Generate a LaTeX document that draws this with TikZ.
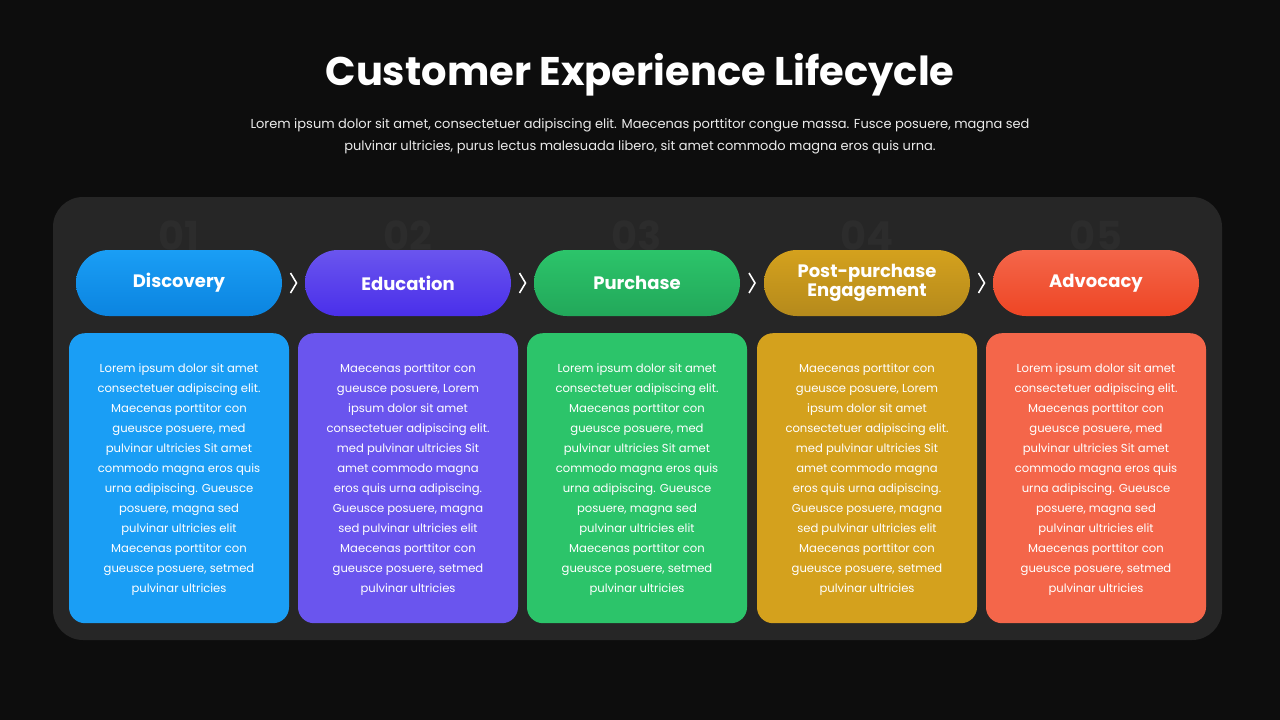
\documentclass[tikz,border=0pt]{standalone}
\usepackage{fontspec}
\setmainfont{Poppins}
\usetikzlibrary{calc}
\begin{document}
\begin{tikzpicture}[x=1pt,y=-1pt,
 pill/.style={rounded corners=33pt,minimum width=206pt,minimum height=66pt,text=white,font=\fontsize{18}{21}\selectfont\bfseries,align=center,inner sep=0pt},
 card/.style={rounded corners=16pt,minimum width=220pt,minimum height=290pt,anchor=north,inner sep=0pt},
 body/.style={text=white,font=\fontsize{11.6}{20}\selectfont,align=center,anchor=north},
 num/.style={font=\fontsize{40}{40}\selectfont\bfseries},
 chev/.style={draw=white,line width=1.6pt}]
\definecolor{bg}{HTML}{0D0D0D}
\definecolor{panel}{HTML}{262626}
\definecolor{cA}{HTML}{1A9EF5}\definecolor{cAd}{HTML}{0B84E0}
\definecolor{cB}{HTML}{6A55EE}\definecolor{cBd}{HTML}{4A2FEA}
\definecolor{cC}{HTML}{2CC46A}\definecolor{cCd}{HTML}{22A85A}
\definecolor{cD}{HTML}{D4A11D}\definecolor{cDd}{HTML}{B58A1C}
\definecolor{cE}{HTML}{F4664A}\definecolor{cEd}{HTML}{EE4524}
\definecolor{numc}{HTML}{2C2C2C}
\fill[bg] (0,0) rectangle (1280,720);
\useasboundingbox (0,0) rectangle (1280,720);
\node[text=white,font=\fontsize{40}{44}\selectfont\bfseries] (title) at (640,75) {Customer Experience Lifecycle};
\node[text=white!92!black,font=\fontsize{13}{22}\selectfont,align=center] (sub) at (640,136) {Lorem ipsum dolor sit amet, consectetuer adipiscing elit. Maecenas porttitor congue massa. Fusce posuere, magna sed\\pulvinar ultricies, purus lectus malesuada libero, sit amet commodo magna eros quis urna.};
\fill[panel,rounded corners=30pt] (53,197) rectangle (1222,640);
\def\txtA{Lorem ipsum dolor sit amet\\consectetuer adipiscing elit.\\Maecenas porttitor con\\gueusce posuere, med\\pulvinar ultricies Sit amet\\commodo magna eros quis\\urna adipiscing. Gueusce\\posuere, magna sed\\pulvinar ultricies elit\\Maecenas porttitor con\\gueusce posuere, setmed\\pulvinar ultricies}
\def\txtB{Maecenas porttitor con\\gueusce posuere, Lorem\\ipsum dolor sit amet\\consectetuer adipiscing elit.\\med pulvinar ultricies Sit\\amet commodo magna\\eros quis urna adipiscing.\\Gueusce posuere, magna\\sed pulvinar ultricies elit\\Maecenas porttitor con\\gueusce posuere, setmed\\pulvinar ultricies}
\foreach \i/\x/\c/\cd/\lab/\t in {1/179/cA/cAd/Discovery/\txtA,2/408/cB/cBd/Education/\txtB,3/637/cC/cCd/Purchase/\txtA,4/867/cD/cDd/{Post-purchase\\[-2pt]Engagement}/\txtB,5/1096/cE/cEd/Advocacy/\txtA}{
 \node[num,text=numc] (n\i) at (\x,236) {0\i};
 \node[pill,top color=\c,bottom color=\cd] (p\i) at (\x,283) {\lab};
 \node[card,fill=\c] (c\i) at (\x,333) {};
 \node[body] (t\i) at (\x,360) {\t};
}
\foreach \a/\b in {1/2,2/3,3/4,4/5}{
 \coordinate (m\a) at ($(p\a.east)!0.5!(p\b.west)$);
 \draw[chev] ([xshift=-3pt,yshift=-10pt]m\a) -- ([xshift=3pt]m\a) -- ([xshift=-3pt,yshift=10pt]m\a);
}
\end{tikzpicture}
\end{document}
